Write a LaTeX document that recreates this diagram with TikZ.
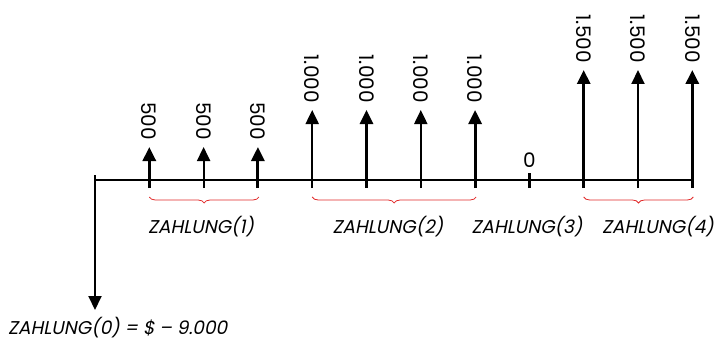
\documentclass[tikz,border=0pt]{standalone}
\usepackage{fontspec}
\setmainfont{Poppins}[AutoFakeSlant=0.2]
\usetikzlibrary{arrows.meta,decorations.pathreplacing}
\definecolor{bracered}{RGB}{225,40,40}
\begin{document}
\begin{tikzpicture}[x=1pt,y=-1pt,
  arr/.style={-{Triangle[length=14pt,width=13pt]}},
  thickarr/.style={arr,line width=3pt},
  thinarr/.style={arr,line width=2pt},
  val/.style={rotate=-90,anchor=east,inner sep=0pt,font=\fontsize{20}{20}\selectfont},
  lab/.style={inner sep=0pt,font=\fontsize{18.5}{19}\selectfont\itshape},
  brc/.style={draw=bracered,line width=0.8pt,decorate,decoration={brace,mirror,amplitude=6pt}}]
\useasboundingbox (0,0) rectangle (715,345);
% axis
\coordinate (a0) at (95,180);
\coordinate (a11) at (692,180);
\draw[line width=1.5pt] (a0) -- (a11);
% payment arrows
\foreach \i/\tip/\txt/\st in {1/147/500/thickarr,2/147/500/thinarr,3/147/500/thickarr,
  4/110/1.000/thinarr,5/110/1.000/thickarr,6/110/1.000/thinarr,7/110/1.000/thickarr,
  9/70/1.500/thickarr,10/70/1.500/thinarr,11/70/1.500/thickarr}{
  \coordinate (b\i) at ({95+54.3*\i},188);
  \coordinate (t\i) at ({95+54.3*\i},\tip);
  \draw[\st] (b\i) -- (t\i);
  \node[val] (v\i) at ([yshift=7pt]t\i) {\txt};
}
% zero payment
\coordinate (b8) at ({95+54.3*8},188);
\coordinate (t8) at ({95+54.3*8},173);
\draw[line width=2.5pt] (b8) -- (t8);
\node[inner sep=0pt,anchor=south,font=\fontsize{20}{20}\selectfont] (v8) at ([yshift=5pt]t8) {0};
% initial outflow
\coordinate (d0) at (95,175);
\coordinate (e0) at (95,310);
\draw[arr,line width=2pt] (d0) -- (e0);
\node[lab,anchor=west] (l0) at (8,328) {ZAHLUNG(0) = \$ – 9.000};
% braces
\coordinate (br1a) at ({95+54.3*1},197); \coordinate (br1b) at ({95+54.3*3+1},197);
\coordinate (br2a) at ({95+54.3*4},197); \coordinate (br2b) at ({95+54.3*7+1},197);
\coordinate (br4a) at ({95+54.3*9},197); \coordinate (br4b) at ({95+54.3*11+1},197);
\draw[brc] (br1a) -- (br1b);
\draw[brc] (br2a) -- (br2b);
\draw[brc] (br4a) -- (br4b);
\node[lab] (l1) at (201,227) {ZAHLUNG(1)};
\node[lab] (l2) at (388,227) {ZAHLUNG(2)};
\node[lab] (l3) at (527,227) {ZAHLUNG(3)};
\node[lab] (l4) at (658,227) {ZAHLUNG(4)};
\end{tikzpicture}
\end{document}
